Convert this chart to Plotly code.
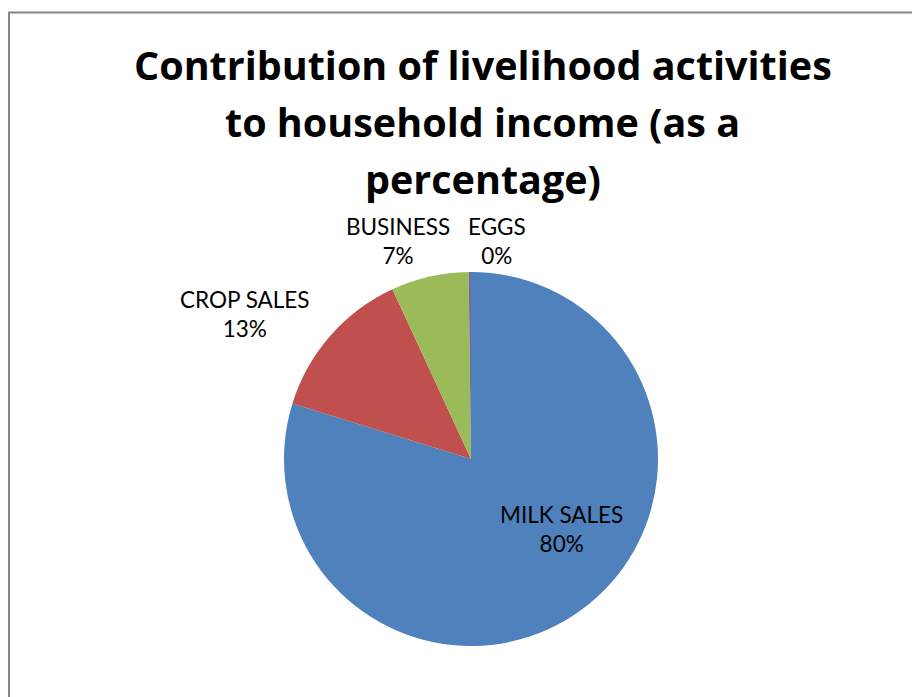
import plotly.graph_objects as go

categories = ["MILK SALES", "CROP SALES", "BUSINESS", "EGGS"]
values = [79.8, 13.3, 6.7, 0.2]
colors = ["#4F81BD", "#C0504D", "#9BBB59", "#8064A2"]
title_lines = ["Contribution of livelihood activities", "to household income (as a", "percentage)"]

W, H = 920, 697
OFF = 8  # page body margin offset in the browser

def fx(px):
    return (px - OFF) / W

def fy(py):
    return 1 - (py - OFF) / H

fig = go.Figure(go.Pie(
    labels=categories,
    values=values,
    sort=False,
    direction="clockwise",
    rotation=0,
    marker=dict(colors=colors, line=dict(width=0)),
    textinfo="none",
    showlegend=False,
    hoverinfo="label+percent",
    domain=dict(x=[fx(284), fx(658)], y=[fy(646), fy(272)]),
))

# data label positions (pixel centres of each label block)
label_pos = {"MILK SALES": (561, 529), "CROP SALES": (245, 314),
             "BUSINESS": (398, 241), "EGGS": (497, 241)}
total = sum(values)
for cat, v in zip(categories, values):
    px, py = label_pos[cat]
    fig.add_annotation(text="%s<br>%d%%" % (cat, round(100 * v / total)),
                       x=fx(px), y=fy(py),
                       xref="paper", yref="paper", showarrow=False,
                       xanchor="center", yanchor="middle", align="center",
                       font=dict(family="Lato", size=22.5, color="black"))

title_y = [66, 123, 180]
for line, yc in zip(title_lines, title_y):
    fig.add_annotation(text="<b>%s</b>" % line, x=fx(483), y=fy(yc - 1),
                       xref="paper", yref="paper", showarrow=False,
                       xanchor="center", yanchor="middle",
                       font=dict(family="Open Sans", size=39.5, color="black"))

fig.add_shape(type="rect", xref="paper", yref="paper",
              x0=fx(9), x1=1.05, y0=-0.05, y1=fy(12.5),
              line=dict(color="#868686", width=2))

fig.update_layout(width=W, height=H, margin=dict(l=0, r=0, t=0, b=0),
                  paper_bgcolor="white", plot_bgcolor="white")
fig.write_html("out.html")
